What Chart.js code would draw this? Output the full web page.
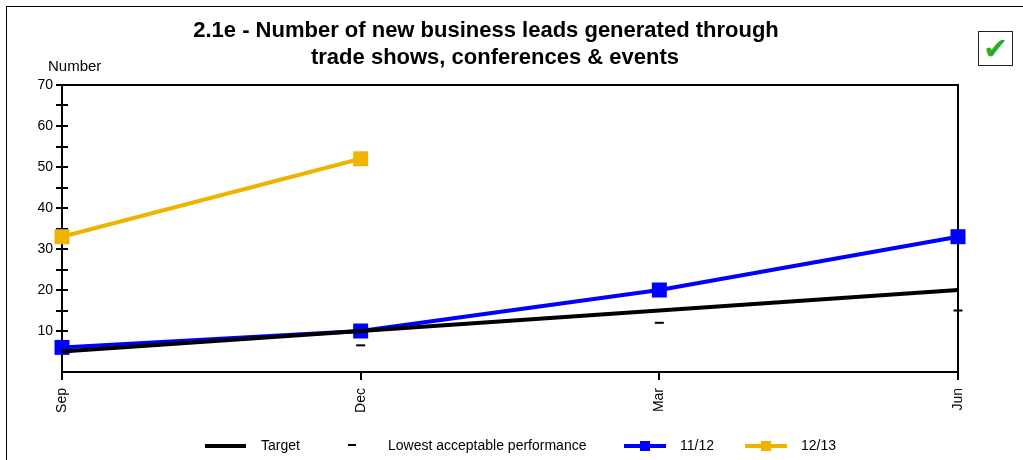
<!DOCTYPE html>
<html>
<head>
<meta charset="utf-8">
<script src="https://cdn.jsdelivr.net/npm/chart.js@4/dist/chart.umd.min.js"></script>
<style>
    html, body { margin: 0; padding: 0; background: #fff; overflow: hidden; }
    #wrap { position: relative; width: 1023px; height: 460px; }
    #frame { position: absolute; left: 6px; top: 6px; width: 1100px; height: 600px; border: 1.5px solid #000; box-sizing: border-box; }
    #chart { position: absolute; left: 0; top: 0; }
    #check { position: absolute; left: 978px; top: 31px; width: 35px; height: 35px; box-sizing: border-box;
             border: 1.5px solid #222; background: #fff; text-align: center; line-height: 34px;
             font-family: 'DejaVu Sans', sans-serif; font-size: 30px; color: #22b022; }
</style>
</head>
<body>
<div id="wrap">
    <div id="frame"></div>
    <canvas id="chart" width="1023" height="460"></canvas>
    <div id="check">✔</div>
</div>
<script>
// chart data
const categories = ['Sep', 'Dec', 'Mar', 'Jun'];
const targetValues = [5, 10, 15, 20];
const lowestValues = [null, 6.5, 12, 15];
const values1112 = [6, 10, 20, 33];
const values1213 = [33, 52, null, null];
const yMin = 0;
const yMax = 70;
const yStep = 5;

const titleLines = ['2.1e - Number of new business leads generated through', 'trade shows, conferences & events'];
const yTitle = 'Number';

const FONT = '"Liberation Sans", Arial, sans-serif';
const BLUE = '#0000ff';
const AMBER = '#f0b400';

// axes, frame and tick marks
const framePlugin = {
    id: 'frame',
    beforeDatasetsDraw(chart) {
        const ctx = chart.ctx;
        const a = chart.chartArea;
        const y = chart.scales.y;
        const x = chart.scales.x;
        ctx.save();
        ctx.strokeStyle = '#000';
        ctx.lineWidth = 2;
        ctx.strokeRect(a.left, a.top, a.right - a.left, a.bottom - a.top);
        ctx.beginPath();
        for (let v = yMin + yStep; v < yMax; v += yStep) {
            const py = Math.round(y.getPixelForValue(v));
            ctx.moveTo(a.left - 6, py);
            ctx.lineTo(a.left + 6, py);
        }
        ctx.moveTo(a.left - 6, a.top);
        ctx.lineTo(a.left, a.top);
        categories.forEach((c, i) => {
            const px = Math.round(x.getPixelForValue(i));
            ctx.moveTo(px, a.bottom);
            ctx.lineTo(px, a.bottom + 8);
        });
        ctx.stroke();
        ctx.restore();
    },
    afterDraw(chart) {
        const ctx = chart.ctx;
        ctx.save();
        ctx.fillStyle = '#000';
        ctx.textBaseline = 'middle';
        // title
        ctx.font = 'bold 22px ' + FONT;
        ctx.textAlign = 'center';
        ctx.fillText(titleLines[0], 486, 31);
        ctx.fillText(titleLines[1], 495, 58);
        // y axis title
        ctx.font = '15px ' + FONT;
        ctx.textAlign = 'left';
        ctx.fillText(yTitle, 48, 67);

        // legend
        const ly = 446;
        ctx.font = '14px ' + FONT;
        ctx.strokeStyle = '#000';
        ctx.lineWidth = 4;
        ctx.beginPath(); ctx.moveTo(205, ly); ctx.lineTo(246, ly); ctx.stroke();
        ctx.fillText('Target', 261, ly);
        ctx.lineWidth = 2;
        ctx.beginPath(); ctx.moveTo(348, ly - 1); ctx.lineTo(356, ly - 1); ctx.stroke();
        ctx.fillText('Lowest acceptable performance', 388, ly);
        [[624, BLUE, '11/12'], [745, AMBER, '12/13']].forEach(([x0, col, txt]) => {
            ctx.strokeStyle = col;
            ctx.fillStyle = col;
            ctx.lineWidth = 4;
            ctx.beginPath(); ctx.moveTo(x0, ly); ctx.lineTo(x0 + 42, ly); ctx.stroke();
            ctx.fillRect(x0 + 16, ly - 5, 10, 10);
            ctx.fillStyle = '#000';
            ctx.fillText(txt, x0 + 56, ly);
        });
        ctx.restore();
    }
};

new Chart(document.getElementById('chart'), {
    type: 'line',
    data: {
        labels: categories,
        datasets: [
            {
                label: 'Target',
                data: targetValues,
                borderColor: '#000',
                borderWidth: 4,
                pointRadius: 0,
                clip: false
            },
            {
                label: 'Lowest acceptable performance',
                data: lowestValues,
                showLine: false,
                pointStyle: 'line',
                pointRadius: 4.5,
                pointBorderColor: '#000',
                pointBorderWidth: 2,
                clip: false
            },
            {
                label: '11/12',
                data: values1112,
                borderColor: BLUE,
                borderWidth: 4,
                pointStyle: 'rect',
                pointRadius: 10.6,
                pointBackgroundColor: BLUE,
                pointBorderWidth: 0,
                clip: false
            },
            {
                label: '12/13',
                data: values1213,
                borderColor: AMBER,
                borderWidth: 4,
                pointStyle: 'rect',
                pointRadius: 10.6,
                pointBackgroundColor: AMBER,
                pointBorderWidth: 0,
                clip: false
            }
        ]
    },
    options: {
        responsive: false,
        animation: false,
        events: [],
        layout: { padding: { left: 0, right: 65, top: 85, bottom: 0 } },
        plugins: {
            legend: { display: false },
            title: { display: false },
            tooltip: { enabled: false }
        },
        scales: {
            x: {
                offset: false,
                grid: { display: false, drawTicks: false },
                border: { display: false },
                ticks: {
                    minRotation: 90,
                    maxRotation: 90,
                    padding: 16,
                    color: '#000',
                    font: { family: FONT, size: 14 }
                },
                afterFit(scale) { scale.height = 88; }
            },
            y: {
                min: yMin,
                max: yMax,
                grid: { display: false, drawTicks: false },
                border: { display: false },
                ticks: {
                    stepSize: yStep,
                    padding: 9,
                    color: '#000',
                    font: { family: FONT, size: 14 },
                    callback: v => (v % 10 === 0 && v > 0) ? v : ''
                },
                afterFit(scale) { scale.width = 62; }
            }
        }
    },
    plugins: [framePlugin]
});
</script>
</body>
</html>
